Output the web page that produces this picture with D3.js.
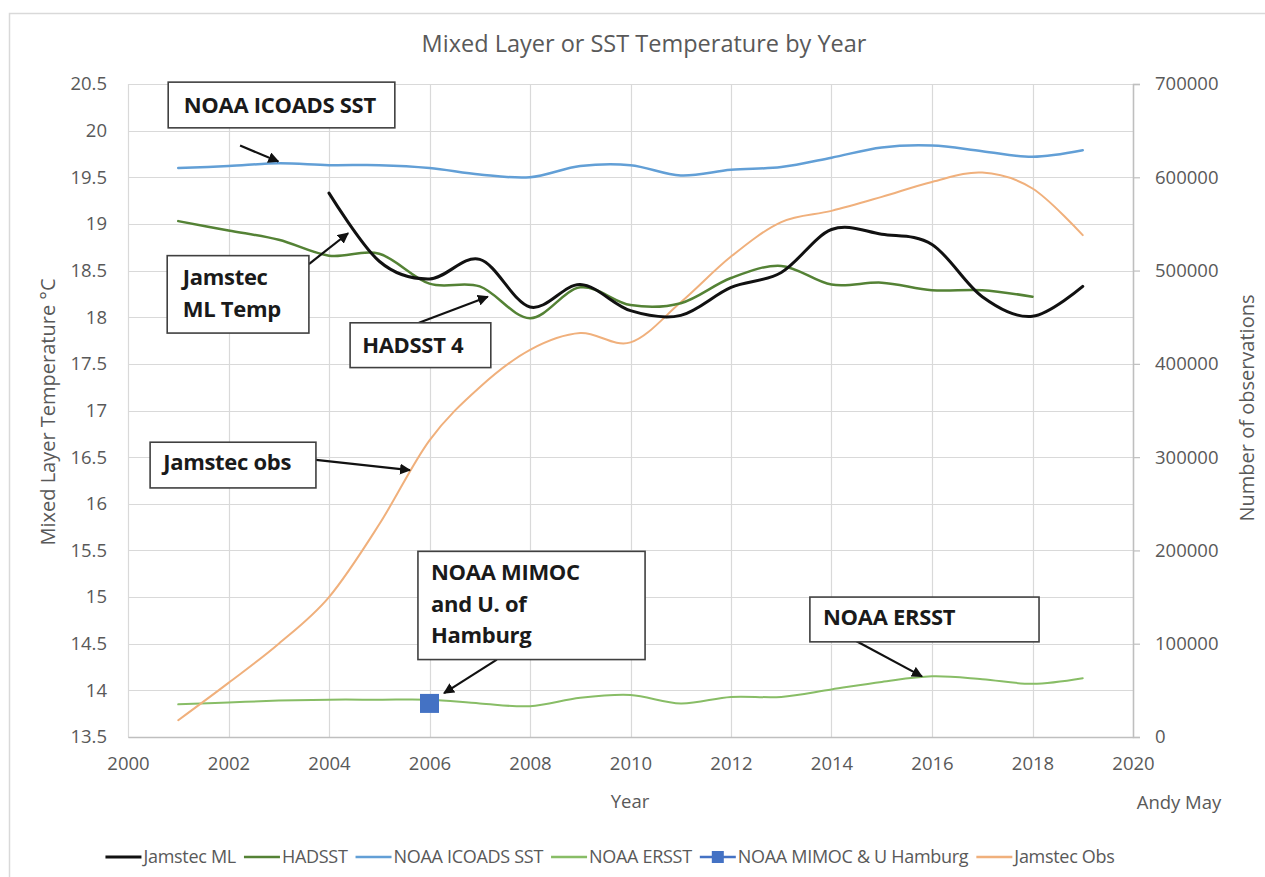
<!DOCTYPE html>
<html>
<head>
<meta charset="utf-8">
<script src="https://cdn.jsdelivr.net/npm/d3@7"></script>
<style>
  html, body { margin: 0; padding: 0; background: #fff; }
  svg { display: block; }
  text { font-family: "Open Sans", Lato, sans-serif; }
</style>
</head>
<body>
<svg id="chart" width="1265" height="877"></svg>
<script>
// ---------------- DATA ----------------
const years = [2001,2002,2003,2004,2005,2006,2007,2008,2009,2010,2011,2012,2013,2014,2015,2016,2017,2018,2019];
const jamstecMLYears = [2004,2005,2006,2007,2008,2009,2010,2011,2012,2013,2014,2015,2016,2017,2018,2019];
const jamstecML = [19.33,18.60,18.41,18.62,18.11,18.35,18.07,18.02,18.32,18.48,18.94,18.89,18.78,18.22,18.01,18.33];
const hadsstYears = [2001,2002,2003,2004,2005,2006,2007,2008,2009,2010,2011,2012,2013,2014,2015,2016,2017,2018];
const hadsst = [19.03,18.93,18.83,18.66,18.68,18.36,18.33,17.99,18.32,18.13,18.15,18.42,18.55,18.35,18.37,18.29,18.29,18.22];
const icoads = [19.60,19.62,19.65,19.63,19.63,19.60,19.53,19.50,19.62,19.63,19.52,19.58,19.61,19.71,19.82,19.84,19.78,19.72,19.79];
const ersst = [13.85,13.87,13.89,13.90,13.90,13.90,13.86,13.83,13.92,13.95,13.86,13.93,13.93,14.01,14.09,14.15,14.12,14.07,14.13];
const mimocYear = [2006];
const mimoc = [13.86];
const jamstecObs = [18000,58000,100000,150000,228000,318000,375000,415000,433000,423000,466000,515000,552000,564000,579000,595000,605000,588000,538000];

const xTicks = [2000,2002,2004,2006,2008,2010,2012,2014,2016,2018,2020];
const yLeftTicks = [13.5,14,14.5,15,15.5,16,16.5,17,17.5,18,18.5,19,19.5,20,20.5];
const yRightTicks = [0,100000,200000,300000,400000,500000,600000,700000];

const titleText = "Mixed Layer or SST Temperature by Year";
const xTitle = "Year";
const yLeftTitle = "Mixed Layer Temperature °C";
const yRightTitle = "Number of observations";
const credit = "Andy May";

const legendNames = ["Jamstec ML","HADSST","NOAA ICOADS SST","NOAA ERSST","NOAA MIMOC & U Hamburg","Jamstec Obs"];

// ---------------- LAYOUT ----------------
const W = 1265, H = 877;
const plot = {left: 128, right: 1133, top: 84, bottom: 737};
const colors = {
  ml: "#111111", had: "#548235", icoads: "#629fd6", ersst: "#88bd66",
  mimoc: "#4472c4", obs: "#f0b07c", grid: "#d9d9d9", axis: "#bfbfbf", text: "#595959"
};
const FS = {title: 23.5, tick: 18.5, axisTitle: 20, legend: 18, note: 22};

const svg = d3.select("#chart");
const x = d3.scaleLinear().domain([2000, 2020]).range([plot.left, plot.right]);
const yL = d3.scaleLinear().domain([13.5, 20.5]).range([plot.bottom, plot.top]);
const yR = d3.scaleLinear().domain([0, 700000]).range([plot.bottom, plot.top]);

// outer frame
svg.append("rect").attr("x", 9.5).attr("y", 13.5).attr("width", W).attr("height", H)
  .attr("fill", "none").attr("stroke", "#d9d9d9").attr("stroke-width", 1.5);

// gridlines
const grid = svg.append("g");
grid.selectAll(".hg").data(yLeftTicks).join("line")
  .attr("x1", plot.left).attr("x2", plot.right)
  .attr("y1", d => Math.round(yL(d)) + 0.5).attr("y2", d => Math.round(yL(d)) + 0.5)
  .attr("stroke", colors.grid).attr("stroke-width", 1.2);
grid.selectAll(".vg").data(xTicks).join("line")
  .attr("y1", plot.top).attr("y2", plot.bottom)
  .attr("x1", d => Math.round(x(d)) + 0.5).attr("x2", d => Math.round(x(d)) + 0.5)
  .attr("stroke", colors.grid).attr("stroke-width", 1.2);

// axes
const gx = svg.append("g").attr("transform", `translate(0,${plot.bottom})`)
  .call(d3.axisBottom(x).tickValues(xTicks).tickFormat(d3.format("d")).tickSize(0).tickPadding(20));
gx.select(".domain").attr("stroke", colors.axis).attr("stroke-width", 1.5);
gx.selectAll("text").attr("fill", colors.text).style("font-size", FS.tick + "px").style("font-family", "Open Sans");

const gl = svg.append("g").attr("transform", `translate(${plot.left},0)`)
  .call(d3.axisLeft(yL).tickValues(yLeftTicks).tickFormat(d => d3.format("")(d)).tickSize(0).tickPadding(21));
gl.select(".domain").remove();
gl.selectAll("text").attr("fill", colors.text).style("font-size", FS.tick + "px").style("font-family", "Open Sans");

const gr = svg.append("g").attr("transform", `translate(${plot.right},0)`)
  .call(d3.axisRight(yR).tickValues(yRightTicks).tickFormat(d3.format("d")).tickSize(7).tickPadding(15));
gr.select(".domain").attr("stroke", colors.axis).attr("stroke-width", 1.5);
gr.selectAll(".tick line").attr("stroke", colors.axis).attr("stroke-width", 1.2);
gr.selectAll("text").attr("fill", colors.text).style("font-size", FS.tick + "px").style("font-family", "Open Sans");

// titles
svg.append("text").attr("x", 644).attr("y", 52).attr("text-anchor", "middle")
  .attr("fill", colors.text).style("font-size", FS.title + "px").text(titleText);
svg.append("text").attr("x", 630).attr("y", 808).attr("text-anchor", "middle")
  .attr("fill", colors.text).style("font-size", FS.tick + "px").text(xTitle);
svg.append("text").attr("x", 1179).attr("y", 809).attr("text-anchor", "middle")
  .attr("fill", colors.text).style("font-size", FS.tick + "px").text(credit);
svg.append("text").attr("transform", "translate(55,412) rotate(-90)").attr("text-anchor", "middle")
  .attr("fill", colors.text).style("font-size", FS.axisTitle + "px").text(yLeftTitle);
svg.append("text").attr("transform", "translate(1254,408) rotate(-90)").attr("text-anchor", "middle")
  .attr("fill", colors.text).style("font-size", FS.axisTitle + "px").text(yRightTitle);

// series
const curve = d3.curveCardinal.tension(0);
const lineL = d3.line().x(d => x(d[0])).y(d => yL(d[1])).curve(curve);
const lineR = d3.line().x(d => x(d[0])).y(d => yR(d[1])).curve(curve);

const series = [
  {vals: d3.zip(years, ersst), line: lineL, color: colors.ersst, w: 2},
  {vals: d3.zip(years, jamstecObs), line: lineR, color: colors.obs, w: 2},
  {vals: d3.zip(years, icoads), line: lineL, color: colors.icoads, w: 2.5},
  {vals: d3.zip(hadsstYears, hadsst), line: lineL, color: colors.had, w: 2.5},
  {vals: d3.zip(jamstecMLYears, jamstecML), line: lineL, color: colors.ml, w: 3}
];
svg.append("g").selectAll("path").data(series).join("path")
  .attr("d", s => s.line(s.vals)).attr("fill", "none")
  .attr("stroke", s => s.color).attr("stroke-width", s => s.w)
  .attr("stroke-linejoin", "round").attr("stroke-linecap", "round");

// MIMOC marker
const sq = 19;
svg.append("g").selectAll("rect").data(d3.zip(mimocYear, mimoc)).join("rect")
  .attr("x", d => x(d[0]) - sq / 2).attr("y", d => yL(d[1]) - sq / 2)
  .attr("width", sq).attr("height", sq).attr("fill", colors.mimoc);

// annotations (positions in data units)
const defs = svg.append("defs");
defs.append("marker").attr("id", "arr").attr("viewBox", "0 0 10 10").attr("refX", 9).attr("refY", 5)
  .attr("markerWidth", 5).attr("markerHeight", 5).attr("orient", "auto-start-reverse")
  .append("path").attr("d", "M0,0 L10,5 L0,10 z").attr("fill", "#111");

const notes = [
  {lines: ["NOAA ICOADS SST"], box: [2000.80, 20.52, 2005.31, 20.03], tx: 2001.11, ty: [20.19], arrow: [2002.23, 19.84, 2002.99, 19.67]},
  {lines: ["Jamstec", "ML Temp"], box: [2000.78, 18.66, 2003.60, 17.83], tx: 2001.09, ty: [18.34, 18.00], arrow: [2003.60, 18.57, 2004.38, 18.90]},
  {lines: ["HADSST 4"], box: [2004.42, 17.94, 2007.22, 17.46], tx: 2004.66, ty: [17.62], arrow: [2005.79, 17.94, 2007.16, 18.22]},
  {lines: ["Jamstec obs"], box: [2000.44, 16.66, 2003.74, 16.17], tx: 2000.70, ty: [16.36], arrow: [2003.74, 16.47, 2005.61, 16.36]},
  {lines: ["NOAA MIMOC", "and U. of", "Hamburg"], box: [2005.77, 15.49, 2010.29, 14.33], tx: 2006.03, ty: [15.18, 14.84, 14.51], arrow: [2007.34, 14.33, 2006.29, 13.97]},
  {lines: ["NOAA ERSST"], box: [2013.57, 15.00, 2018.13, 14.52], tx: 2013.83, ty: [14.70], arrow: [2014.49, 14.53, 2015.80, 14.15]}
];
const ng = svg.append("g");
notes.forEach(n => {
  ng.append("line").attr("x1", x(n.arrow[0])).attr("y1", yL(n.arrow[1]))
    .attr("x2", x(n.arrow[2])).attr("y2", yL(n.arrow[3]))
    .attr("stroke", "#111").attr("stroke-width", 2.2).attr("marker-end", "url(#arr)");
  ng.append("rect").attr("x", x(n.box[0])).attr("y", yL(n.box[1]))
    .attr("width", x(n.box[2]) - x(n.box[0])).attr("height", yL(n.box[3]) - yL(n.box[1]))
    .attr("fill", "#fff").attr("stroke", "#404040").attr("stroke-width", 1.6);
  n.lines.forEach((t, i) => {
    ng.append("text").attr("x", x(n.tx)).attr("y", yL(n.ty[i]))
      .attr("fill", "#1a1a1a").style("font-size", FS.note + "px").style("font-weight", "700")
      .style("letter-spacing", "-0.3px").text(t);
  });
});

// legend: items laid out sequentially, centred
const legendY = 857;
const legendColors = [colors.ml, colors.had, colors.icoads, colors.ersst, colors.mimoc, colors.obs];
const legendWidths = [3, 2.5, 2.5, 2.5, 2.5, 2.5];
const lg = svg.append("g");
const sampleLen = 36, sampleGap = 2, itemGap = 8;
const items = legendNames.map((name, i) => {
  const g = lg.append("g");
  const t = g.append("text").attr("x", sampleLen + sampleGap).attr("y", legendY + 6)
    .attr("fill", colors.text).style("font-size", FS.legend + "px").style("letter-spacing", "-0.3px").text(name);
  g.append("line").attr("x1", 0).attr("x2", sampleLen).attr("y1", legendY).attr("y2", legendY)
    .attr("stroke", legendColors[i]).attr("stroke-width", legendWidths[i]);
  if (i === 4) {
    g.append("rect").attr("x", sampleLen / 2 - 6).attr("y", legendY - 6).attr("width", 12).attr("height", 12)
      .attr("fill", legendColors[i]);
  }
  return {g, w: sampleLen + sampleGap + t.node().getComputedTextLength()};
});
const total = d3.sum(items, d => d.w) + itemGap * (items.length - 1);
let cx = 610 - total / 2;
items.forEach(it => { it.g.attr("transform", `translate(${cx},0)`); cx += it.w + itemGap; });
</script>
</body>
</html>
